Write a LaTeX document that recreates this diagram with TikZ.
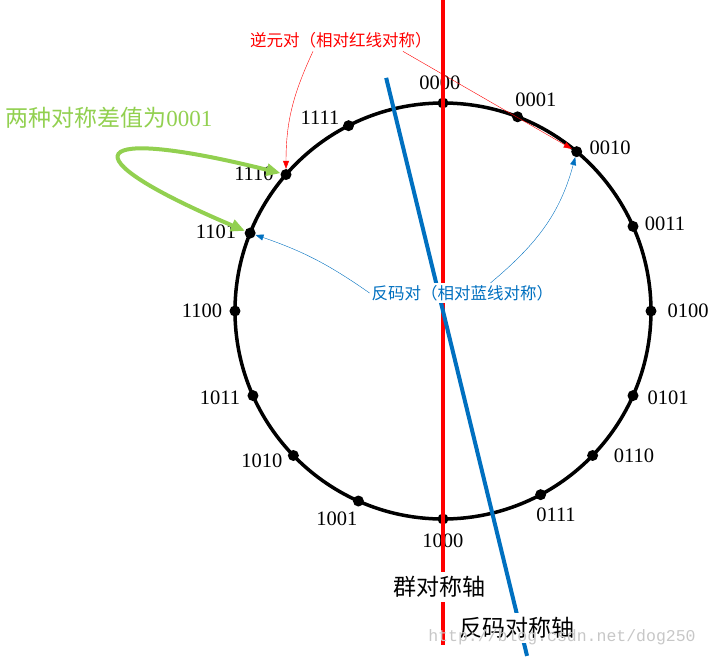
\documentclass[tikz,border=0pt]{standalone}
\usepackage{fontspec}
\setmainfont{Liberation Serif}
\newfontfamily\cjk{Noto Sans CJK SC}
\newfontfamily\wmfont{Liberation Mono}
\usetikzlibrary{arrows.meta,positioning}
\definecolor{axisred}{RGB}{255,0,0}
\definecolor{axisblue}{RGB}{0,112,192}
\definecolor{notegreen}{RGB}{146,208,80}

\begin{document}
\begin{tikzpicture}[x=1pt,y=1pt]
      \useasboundingbox (-443,-346) rectangle (267,311);

      \draw[line width=3.5pt] (0,0) circle (208);

      \begin{scope}[every node/.style={circle,fill,inner sep=0pt,minimum size=11pt}]
        \node (0000) at (90:208)   {};
        \node (0001) at (69:208)   {};
        \node (0010) at (50:208)   {};
        \node (0011) at (24:208)   {};
        \node (0100) at (0:208)    {};
        \node (0101) at (-24:208)  {};
        \node (0110) at (-44:208)  {};
        \node (0111) at (-62:208)  {};
        \node (1000) at (-90:208)  {};
        \node (1001) at (-114:208) {};
        \node (1010) at (-136:208) {};
        \node (1011) at (-156:208) {};
        \node (1100) at (180:208)  {};
        \node (1101) at (158:208)  {};
        \node (1110) at (139:208)  {};
        \node (1111) at (117:208)  {};
      \end{scope}

      \begin{scope}[every node/.style={font=\fontsize{20.5}{24}\selectfont}]
        \node (n0000) at (-3,228)    {0000};
        \node (n0001) at (93,211)    {0001};
        \node (n0010) at (167,163)   {0010};
        \node (n0011) at (222,87)    {0011};
        \node (n0100) at (245,0)     {0100};
        \node (n0101) at (225,-87)   {0101};
        \node (n0110) at (191,-145)  {0110};
        \node (n0111) at (113,-204)  {0111};
        \node (n1000) at (0,-230)    {1000};
        \node (n1001) at (-106,-208) {1001};
        \node (n1010) at (-181,-150) {1010};
        \node (n1011) at (-223,-87)  {1011};
        \node (n1100) at (-241,0)    {1100};
        \node (n1101) at (-227,79)   {1101};
        \node (n1110) at (-189,137)  {1110};
        \node (n1111) at (-123,193)  {1111};
      \end{scope}

      % the two axes
      \coordinate (redtop)  at (0,311);
      \coordinate (redbot)  at (0,-334);
      \coordinate (bluetop) at (103.7:240);
      \coordinate (bluebot) at (-76.3:355);
      \draw[axisred,line width=4pt]  (redtop)  -- (redbot);
      \draw[axisblue,line width=4pt] (bluetop) -- (bluebot);

      \begin{scope}[every node/.style={fill=white,inner sep=4pt,font=\cjk\fontsize{23}{26}\selectfont}]
        \node (grpaxis) at (-3,-276) {群对称轴};
        \node (invaxis) at (74,-317) {反码对称轴};
      \end{scope}

      \node[fill=white,inner sep=2pt,text=axisblue,font=\cjk\fontsize{16.5}{19}\selectfont]
        (bluelbl) at (19.5,18) {反码对（相对蓝线对称）};
      \node[text=axisred,font=\cjk\fontsize{16.5}{19}\selectfont]
        (redlbl) at (-102,271) {逆元对（相对红线对称）};
      \node[text=notegreen,font=\fontsize{23}{26}\selectfont]
        (greenlbl) at (-334,193) {{\cjk 两种对称差值为}0001};

      \begin{scope}[every path/.style={-{Triangle[length=8pt,width=6pt]}}]
        \draw[axisred]  ([xshift=-28pt]redlbl.south) to[out=-115,in=90] (1110);
        \draw[axisred]  ([xshift=62pt]redlbl.south) -- (0010);
        \draw[axisblue] (bluelbl.west) to[bend right=8] (1101);
        \draw[axisblue] ([xshift=28pt]bluelbl.north) to[out=40,in=-105] (0010);
      \end{scope}

      \draw[notegreen,line width=4pt,{Triangle[length=14pt,width=12pt]}-{Triangle[length=14pt,width=12pt]}]
        (1110) to[out=166,in=157,looseness=7.5] (1101);

      \node[text=black!22,font=\wmfont\fontsize{16.5}{18}\selectfont] (mark) at (119,-326) {http://blog.csdn.net/dog250};

    \end{tikzpicture}
\end{document}
